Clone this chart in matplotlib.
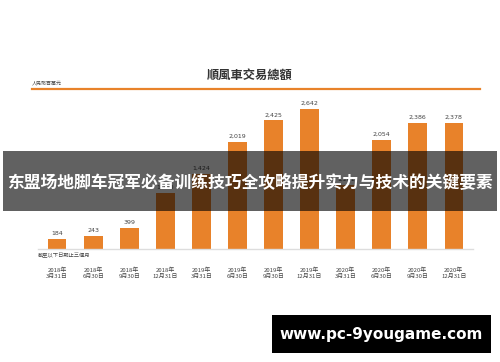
import matplotlib
matplotlib.use("Agg")
import matplotlib.pyplot as plt
from matplotlib.patches import Rectangle

plt.rcParams['font.family'] = ['Noto Sans CJK TC', 'DejaVu Sans']

# 顺风车交易总额（人民币百万元）
periods = ['2018年\n3月31日', '2018年\n6月30日', '2018年\n9月30日', '2018年\n12月31日',
           '2019年\n3月31日', '2019年\n6月30日', '2019年\n9月30日', '2019年\n12月31日',
           '2020年\n3月31日', '2020年\n6月30日', '2020年\n9月30日', '2020年\n12月31日']
gtv = [184, 243, 399, 1050, 1424, 2019, 2425, 2642, 1201, 2054, 2386, 2378]

title = '順風車交易總額'
unit = '人民幣百萬元'
note = '截至以下日期止三個月'
banner = '东盟场地脚车冠军必备训练技巧全攻略提升实力与技术的关键要素'
site = 'www.pc-9yougame.com'

W, H = 500, 362
fig = plt.figure(figsize=(W / 100, H / 100), dpi=100)
fig.patch.set_facecolor('white')

ax = fig.add_axes([38 / W, (H - 249) / H, (473 - 38) / W, (249 - 89) / H])
x = range(len(gtv))
ax.bar(x, gtv, width=0.52, color='#E8822A', zorder=2)
for xi, v in zip(x, gtv):
    ax.text(xi, v + 60, f'{v:,}', ha='center', va='bottom', fontsize=4.5,
            color='#444444', family='DejaVu Sans')
ax.set_xlim(-0.53, 11.53)
ax.set_ylim(0, 3019)
ax.set_xticks(list(x))
ax.set_xticklabels(periods, fontsize=4.3, color='#444444', linespacing=1.3)
ax.tick_params(axis='x', length=0, pad=13)
ax.set_yticks([])
for s in ['top', 'right', 'left']:
    ax.spines[s].set_visible(False)
ax.spines['bottom'].set_color('#dddddd')
ax.spines['bottom'].set_linewidth(1.0)
ax.set_facecolor('none')

# title, unit and orange rule
fig.text(250 / W, 1 - 75 / H, title, ha='center', va='center', fontsize=8.8,
         fontweight='bold', color='#333333')
fig.text(32 / W, 1 - 83 / H, unit, ha='left', va='center', fontsize=3.6, color='#444444')
fig.add_artist(plt.Line2D([32 / W, 480 / W], [1 - 89 / H, 1 - 89 / H],
                          color='#E8822A', linewidth=1.6))
fig.text(38 / W, 1 - 256 / H, note, ha='left', va='center', fontsize=3.8, color='#444444')

# overlay banner
fig.patches.append(Rectangle((3 / W, 1 - 211 / H), 494 / W, 60 / H,
                             transform=fig.transFigure, facecolor='black',
                             alpha=0.62, zorder=5))
fig.text(250 / W, 1 - 182 / H, banner, ha='center', va='center', fontsize=12.1,
         fontweight='bold', color='white', zorder=6,
         family=['Noto Sans CJK SC', 'DejaVu Sans'])

# site box
fig.patches.append(Rectangle((272 / W, 1 - 353 / H), 219 / W, 38 / H,
                             transform=fig.transFigure, facecolor='black', zorder=5))
fig.text(381 / W, 1 - 335 / H, site, ha='center', va='center', fontsize=11,
         fontweight='bold', color='white', zorder=6, family='DejaVu Sans')

fig.savefig('out.png', dpi=100)
